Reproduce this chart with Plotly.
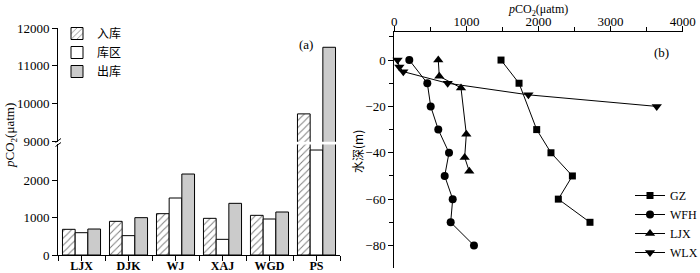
import plotly.graph_objects as go

# ---------------- data ----------------
sites = ["LJX", "DJK", "WJ", "XAJ", "WGD", "PS"]
inflow = [685, 898, 1102, 978, 1058, 9720]       # 入库
reservoir = [595, 516, 1520, 418, 960, 2800]     # 库区
outflow = [693, 996, 2160, 1378, 1147, 11488]    # 出库

lower_ticks = [0, 1000, 2000]
upper_ticks = [9000, 10000, 11000, 12000]

gz_x = [1480, 1730, 1975, 2173, 2470, 2275, 2714]
gz_y = [0, -10, -30, -40, -50, -60, -70]
wfh_x = [208, 458, 505, 610, 759, 699, 810, 782, 1105]
wfh_y = [0, -10, -20, -30, -40, -50, -60, -70, -80]
ljx_x = [610, 624, 925, 999, 976, 1040]
ljx_y = [0, -7, -12, -32, -42, -48]
wlx_x = [45, 70, 125, 740, 1860, 3640]
wlx_y = [0, -3, -5, -10, -15, -20]
depth_ticks = [0, -20, -40, -60, -80]

W, H = 700, 273
FONT = "Liberation Serif, Times New Roman, Noto Sans CJK SC, serif"
CJK = "Noto Sans CJK SC, Liberation Serif"

def px(x):
    return x / W

def py(y):
    return 1 - y / H

idx = list(range(len(sites)))

fig = go.Figure()

bar_specs = [
    ("入库", inflow, dict(color="white", pattern=dict(shape="/", fgcolor="black", size=5, solidity=0.2))),
    ("库区", reservoir, dict(color="white")),
    ("出库", outflow, dict(color="#cbcbcb")),
]
for name, vals, mk in bar_specs:
    marker = dict(line=dict(color="black", width=1), **mk)
    fig.add_trace(go.Bar(x=idx, y=vals, name=name, marker=marker, xaxis="x", yaxis="y",
                         offsetgroup=name, legend="legend"))
    fig.add_trace(go.Bar(x=idx, y=vals, name=name, marker=marker, xaxis="x2", yaxis="y2",
                         offsetgroup=name, showlegend=False))

line_specs = [
    ("GZ", gz_x, gz_y, "square", 7),
    ("WFH", wfh_x, wfh_y, "circle", 8),
    ("LJX", ljx_x, ljx_y, "triangle-up", 9),
    ("WLX", wlx_x, wlx_y, "triangle-down", 9),
]
for name, xs, ys, sym, sz in line_specs:
    fig.add_trace(go.Scatter(x=xs, y=ys, name=name, mode="lines+markers",
                             line=dict(color="black", width=1),
                             marker=dict(symbol=sym, size=sz, color="black"),
                             xaxis="x3", yaxis="y3", legend="legend2", cliponaxis=False))

axis_common = dict(showline=True, linecolor="black", linewidth=1, showgrid=False, zeroline=False,
                   ticks="outside", ticklen=5, tickcolor="black", tickwidth=1, automargin=False,
                   tickformat="d",
                   tickfont=dict(family=FONT, size=13, color="black"))

fig.update_layout(
    width=W, height=H, margin=dict(l=0, r=0, t=0, b=0, autoexpand=False),
    paper_bgcolor="white", plot_bgcolor="white",
    barmode="group", bargap=0.19, bargroupgap=0,
    font=dict(family=FONT, size=13, color="black"),
    xaxis=dict(domain=[px(58), px(340)], range=[-0.5, 5.5], anchor="y",
               tickmode="array", tickvals=idx, ticktext=["<b>%s</b>" % s for s in sites],
               minor=dict(tickmode="array", tickvals=[i - 0.5 for i in range(len(sites) + 1)],
                          ticks="outside", ticklen=5, tickcolor="black"),
               ticklabelstandoff=-5,
               **{k: v for k, v in axis_common.items() if k != "tickfont"},
               tickfont=dict(family=FONT, size=12, color="black")),
    yaxis=dict(domain=[py(255), py(144.4)], range=[0, 2950], anchor="x",
               tickmode="array", tickvals=lower_ticks, **axis_common),
    xaxis2=dict(domain=[px(58), px(340)], range=[-0.5, 5.5], anchor="y2", matches="x", visible=False),
    yaxis2=dict(domain=[py(141.75), py(28)], range=[8980, 12000], anchor="x2",
                tickmode="array", tickvals=upper_ticks, **axis_common),
    xaxis3=dict(domain=[px(394.3), px(682.7)], range=[0, 4000], anchor="y3", side="top",
                dtick=1000, minor=dict(dtick=500, ticks="outside", ticklen=4, tickcolor="black"),
                ticklabelstandoff=-5,
                **axis_common),
    yaxis3=dict(domain=[py(267.5), py(32.25)], range=[-89.5, 12], anchor="x3",
                tickmode="array", tickvals=depth_ticks,
                minor=dict(dtick=10, ticks="outside", ticklen=4, tickcolor="black"),
                **axis_common),
    legend=dict(x=px(57), y=py(19), xanchor="left", yanchor="top", bgcolor="rgba(0,0,0,0)",
                font=dict(family=CJK, size=12), tracegroupgap=0, itemclick=False),
    legend2=dict(x=px(630), y=py(181), xanchor="left", yanchor="top", bgcolor="rgba(0,0,0,0)",
                 font=dict(family=FONT, size=12), tracegroupgap=0),
    annotations=[
        dict(text="<i>p</i>CO<sub>2</sub>(μatm)", x=px(10), y=py(136), xref="paper", yref="paper",
             xanchor="center", yanchor="middle",
             textangle=-90, showarrow=False, font=dict(family=FONT, size=13)),
        dict(text="<i>p</i>CO<sub>2</sub>(μatm)", x=px(538), y=1.0, xref="paper", yref="paper",
             xanchor="center", yanchor="top",
             showarrow=False, font=dict(family=FONT, size=12)),
        dict(text="水深(m)", x=px(357), y=py(152), xref="paper", yref="paper",
             xanchor="center", yanchor="middle",
             textangle=-90, showarrow=False, font=dict(family=CJK, size=12)),
        dict(text="(a)", x=px(306), y=py(45), xref="paper", yref="paper",
             xanchor="center", yanchor="middle",
             showarrow=False, font=dict(family=FONT, size=13)),
        dict(text="(b)", x=px(661), y=py(52), xref="paper", yref="paper",
             xanchor="center", yanchor="middle",
             showarrow=False, font=dict(family=FONT, size=13)),
    ],
    shapes=[
        dict(type="line", xref="paper", yref="paper", x0=px(55.5), y0=py(142.5), x1=px(61), y1=py(138.5),
             line=dict(color="black", width=1)),
        dict(type="line", xref="paper", yref="paper", x0=px(55.5), y0=py(146.5), x1=px(61), y1=py(142.5),
             line=dict(color="black", width=1)),
    ],
)

fig.write_html("out.html", config={"displayModeBar": False},
               post_script="document.body.style.margin='0';document.body.style.overflow='hidden';")
